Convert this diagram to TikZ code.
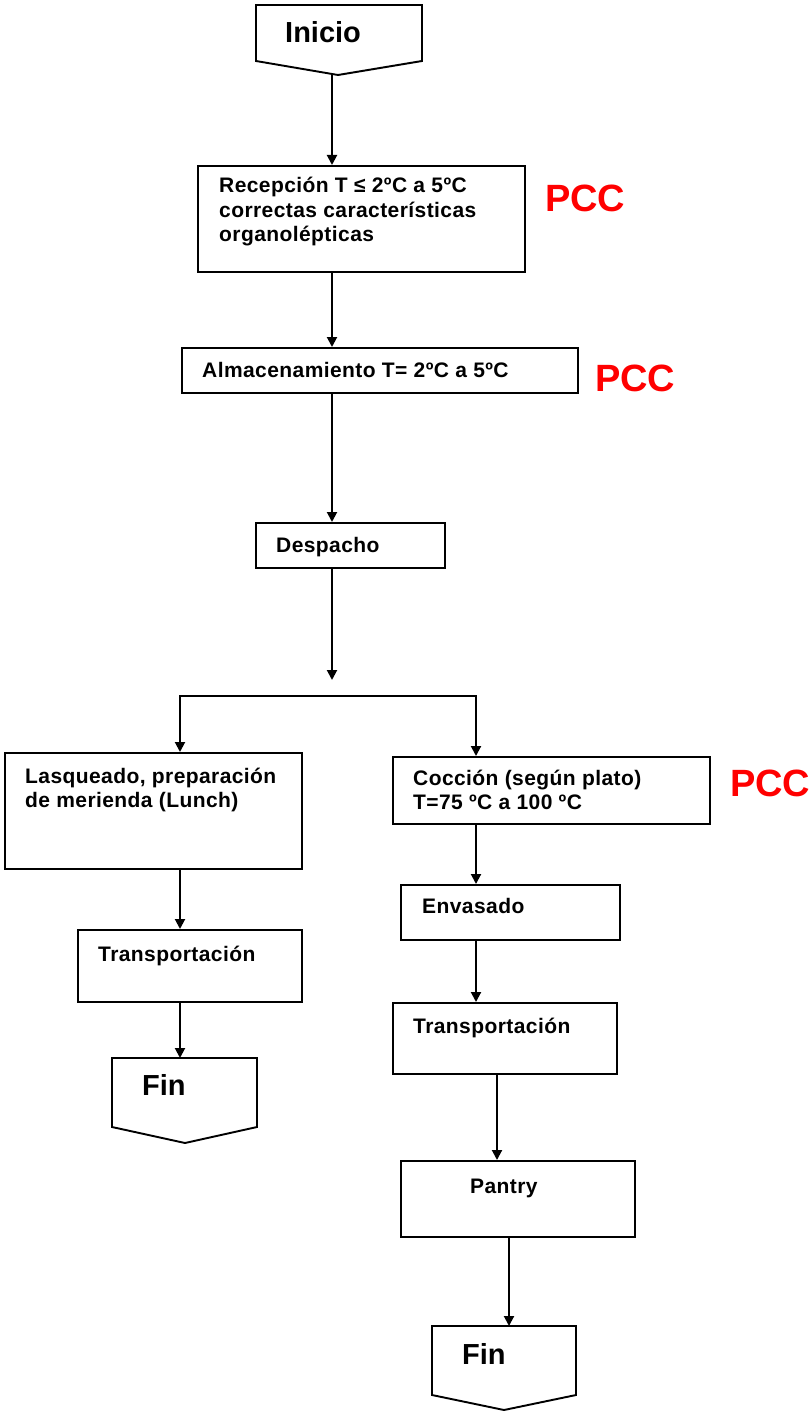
\documentclass[tikz,border=0pt]{standalone}
\usepackage{fontspec}
\setmainfont{Liberation Sans}
\newfontfamily\boxfont[LetterSpace=2]{Liberation Sans}
\usetikzlibrary{arrows.meta}

\begin{document}
\begin{tikzpicture}[x=1pt, y=-1pt, >={Triangle[length=10pt, width=10pt]},
    box/.style={draw, line width=1.9pt, anchor=north west, inner sep=0pt},
    line/.style={line width=2pt},
    txt/.style={anchor=west, inner sep=0pt, align=left, font=\fontsize{21}{24.5}\boxfont\bfseries},
    lbl/.style={anchor=base west, inner sep=0pt, font=\fontsize{21}{24.5}\boxfont\bfseries},
    big/.style={anchor=base west, inner sep=0pt, font=\fontsize{29}{32}\selectfont\bfseries},
    pcc/.style={anchor=base west, inner sep=0pt, text=red, font=\fontsize{38}{40}\selectfont\bfseries}]
    \useasboundingbox (0,0) rectangle (809,1412);
    % lanes of the arrows
    \coordinate (lnM) at (332,0);
    \coordinate (lnL) at (180,0);
    \coordinate (lnR) at (476,0);
    \coordinate (lnP) at (497,0);
    % start and end symbols
    \draw[line width=1.9pt] (256,5) -- (422,5) -- (422,61) -- (338,75) coordinate (ini) -- (256,61) -- cycle;
    \draw[line width=1.9pt] (112,1058) -- (257,1058) -- (257,1127) -- (185,1143) -- (112,1127) -- cycle;
    \draw[line width=1.9pt] (432,1326) -- (576,1326) -- (576,1395) -- (504,1410) -- (432,1395) -- cycle;
    \coordinate (finL) at (180,1058);
    \coordinate (finR) at (509,1326);
    \node[big] (iniT) at (285,43) {Inicio};
    \node[big] (finLT) at (142,1095) {Fin};
    \node[big] (finRT) at (462,1364) {Fin};
    % boxes
    \node[box, minimum width=327pt, minimum height=106pt] (rec) at (197,165) {};
    \node[box, minimum width=396pt, minimum height=45pt] (alm) at (181,347) {};
    \node[box, minimum width=189pt, minimum height=45pt] (des) at (255,522) {};
    \node[box, minimum width=297pt, minimum height=116pt] (las) at (4,752) {};
    \node[box, minimum width=317pt, minimum height=67pt] (coc) at (392,756) {};
    \node[box, minimum width=224pt, minimum height=72pt] (trL) at (77,929) {};
    \node[box, minimum width=219pt, minimum height=55pt] (env) at (400,884) {};
    \node[box, minimum width=224pt, minimum height=71pt] (trR) at (392,1002) {};
    \node[box, minimum width=234pt, minimum height=76pt] (pan) at (400,1160) {};
    % texts
    \node[txt] (recT) at (219,212) {Recepción T ≤ 2ºC a 5ºC\\correctas características\\organolépticas};
    \node[lbl] (almT) at (202,377) {Almacenamiento T= 2ºC a 5ºC};
    \node[lbl] (desT) at (276,552) {Despacho};
    \node[txt] (lasT) at (25,790) {Lasqueado, preparación\\de merienda (Lunch)};
    \node[txt] (cocT) at (413,790) {Cocción (según plato)\\T=75 ºC a 100 ºC};
    \node[lbl] (trLT) at (98,961) {Transportación};
    \node[lbl] (envT) at (422,913) {Envasado};
    \node[lbl] (trRT) at (413,1033) {Transportación};
    \node[lbl] (panT) at (470,1193) {Pantry};
    \node[pcc] (pcc1) at (545,212) {PCC};
    \node[pcc] (pcc2) at (595,391) {PCC};
    \node[pcc] (pcc3) at (730,796) {PCC};
    % arrows
    \coordinate (split) at (332,680);
    \coordinate (fork) at (332,696);
    \draw[line, ->] (ini -| lnM) -- (lnM |- rec.north);
    \draw[line, ->] (lnM |- rec.south) -- (lnM |- alm.north);
    \draw[line, ->] (lnM |- alm.south) -- (lnM |- des.north);
    \draw[line, ->] (lnM |- des.south) -- (split);
    \draw[line, <->] (lnL |- las.north) -- (fork -| lnL) -- (fork -| lnR) -- (lnR |- coc.north);
    \draw[line, ->] (lnL |- las.south) -- (lnL |- trL.north);
    \draw[line, ->] (lnL |- trL.south) -- (finL);
    \draw[line, ->] (lnR |- coc.south) -- (lnR |- env.north);
    \draw[line, ->] (lnR |- env.south) -- (lnR |- trR.north);
    \draw[line, ->] (lnP |- trR.south) -- (lnP |- pan.north);
    \draw[line, ->] (finR |- pan.south) -- (finR);
\end{tikzpicture}
\end{document}
